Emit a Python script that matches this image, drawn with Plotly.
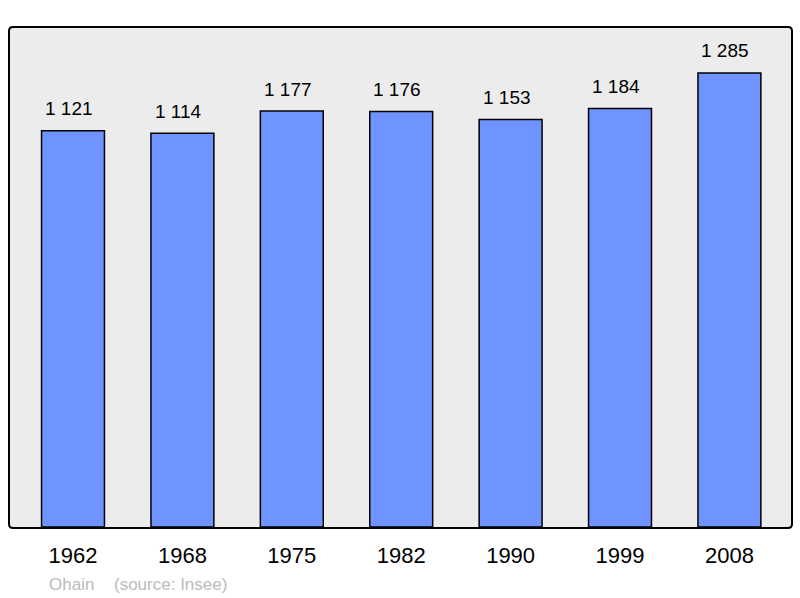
import plotly.graph_objects as go

years = ["1962", "1968", "1975", "1982", "1990", "1999", "2008"]
population = [1121, 1114, 1177, 1176, 1153, 1184, 1285]
value_labels = ["1 121", "1 114", "1 177", "1 176", "1 153", "1 184", "1 285"]
place = "Ohain"
source = "(source: Insee)"

xs = list(range(len(years)))
FONT = "Liberation Sans, Arial, sans-serif"

fig = go.Figure()
fig.add_trace(go.Bar(
    x=xs, y=population, width=0.575,
    marker=dict(color="#7094ff", line=dict(color="black", width=1.5)),
    hoverinfo="skip",
))

for x, v, t in zip(xs, population, value_labels):
    fig.add_annotation(x=x, y=v, text=t, showarrow=False, yanchor="middle",
                       yshift=22, xshift=-4,
                       font=dict(family=FONT, size=19, color="black"))

# rounded border
W, H = 783.0, 501.0
rx, ry = 4 / W, 4 / H
path = (f"M {rx},0 L {1-rx},0 Q 1,0 1,{ry} L 1,{1-ry} Q 1,1 {1-rx},1 "
        f"L {rx},1 Q 0,1 0,{1-ry} L 0,{ry} Q 0,0 {rx},0 Z")
fig.add_shape(type="path", xref="paper", yref="paper", path=path,
              line=dict(color="black", width=2), layer="above")

fig.add_annotation(xref="paper", yref="paper", x=(47 - 9) / W, y=-(584 - 528) / H,
                   xanchor="left", yanchor="middle", text=place, showarrow=False,
                   font=dict(family=FONT, size=17, color="#bbbbbb"))
fig.add_annotation(xref="paper", yref="paper", x=(112 - 9) / W, y=-(584 - 528) / H,
                   xanchor="left", yanchor="middle", text=source, showarrow=False,
                   font=dict(family=FONT, size=17, color="#bbbbbb"))

fig.update_layout(
    width=800, height=598,
    margin=dict(l=9, r=8, t=27, b=70),
    paper_bgcolor="white", plot_bgcolor="#ececec",
    showlegend=False,
    font=dict(family=FONT),
    xaxis=dict(range=[-0.585, 6.572], tickmode="array", tickvals=xs, ticktext=years,
               showgrid=False, zeroline=False, showline=False,
               tickfont=dict(family=FONT, size=22, color="black"), ticks="",
               ticklabelstandoff=12, fixedrange=True),
    yaxis=dict(range=[-3, 1415], showgrid=False, zeroline=False, showline=False,
               showticklabels=False, ticks="", fixedrange=True),
)

fig.write_html("out.html", config={"displayModeBar": False},
               post_script="document.body.style.margin='0';document.body.style.overflow='hidden';")
